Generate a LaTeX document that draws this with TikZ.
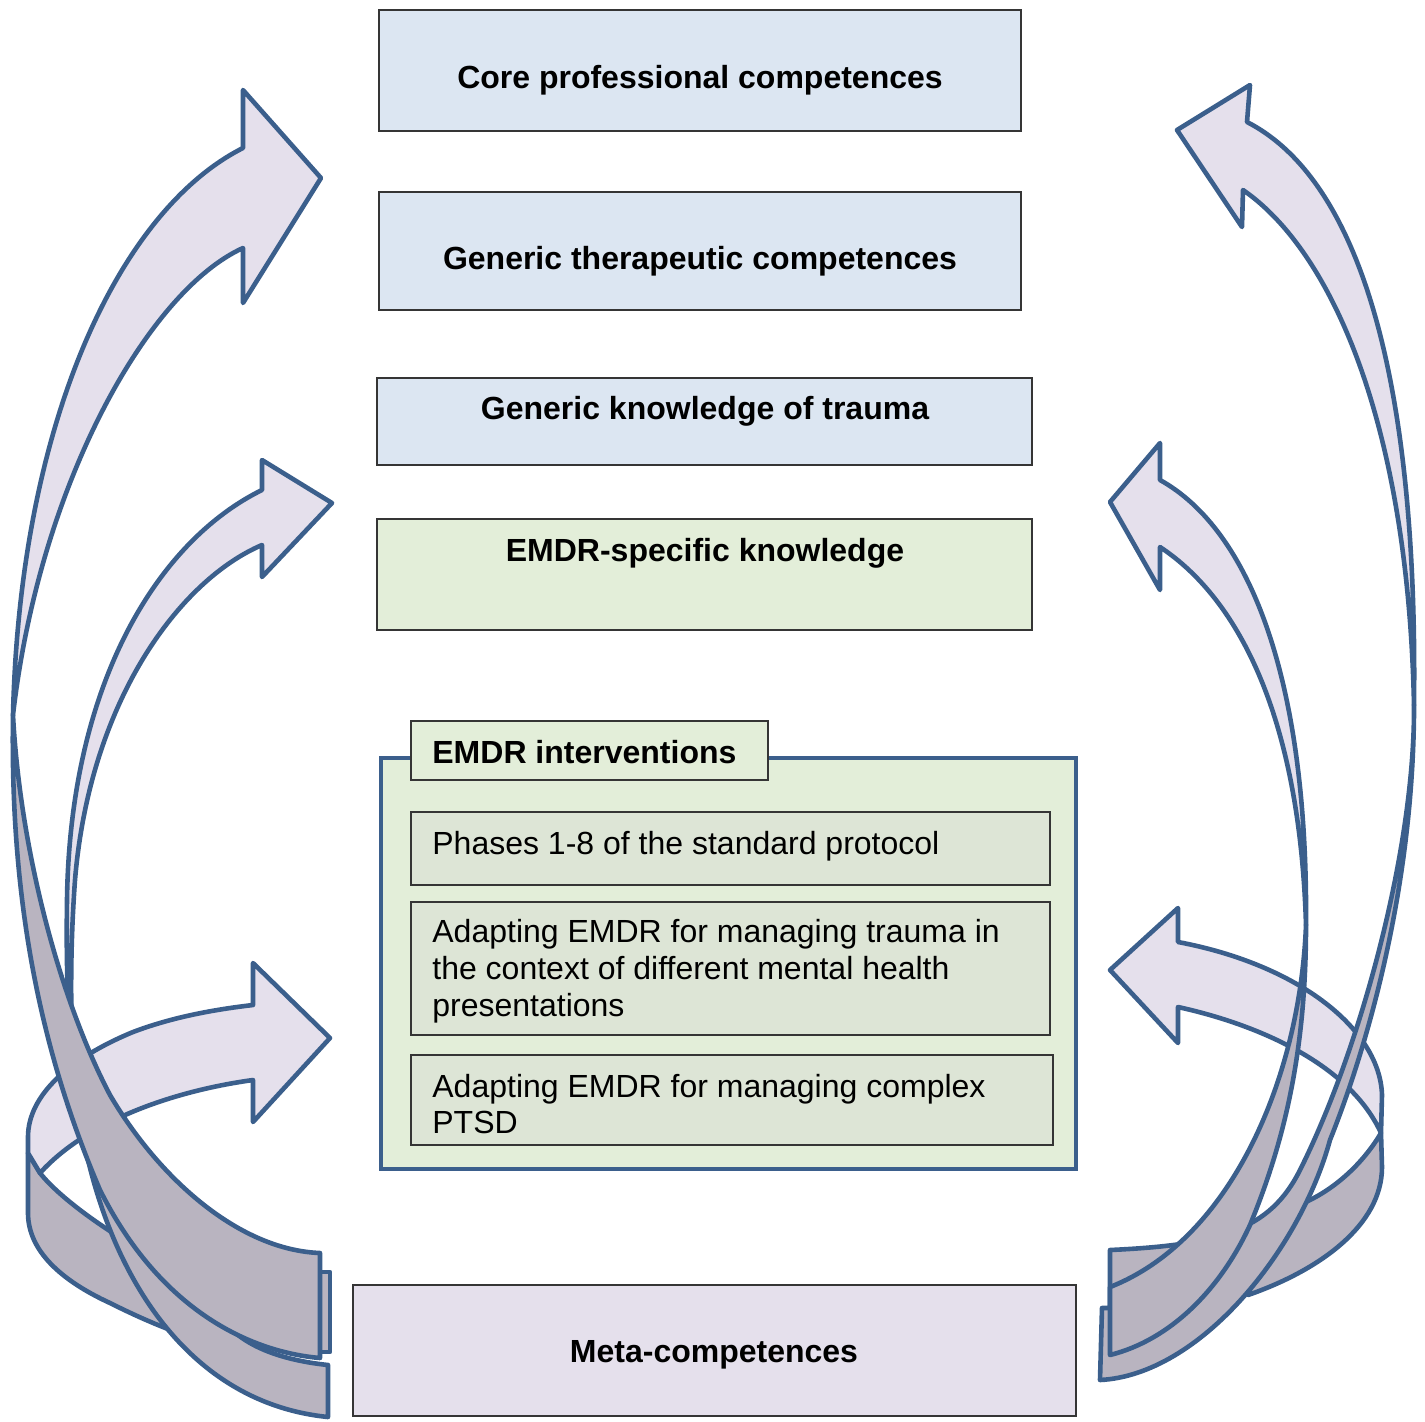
\documentclass[tikz,border=0pt]{standalone}
\usepackage{fontspec}
\setmainfont{Liberation Sans}
\usetikzlibrary{fit}
\definecolor{arrowline}{HTML}{3B5F8C}
\definecolor{arrowlight}{HTML}{E5E0EC}
\definecolor{arrowdark}{HTML}{B9B4C0}
\definecolor{boxblue}{HTML}{DCE6F2}
\definecolor{boxgreen}{HTML}{E3EED9}
\definecolor{boxinner}{HTML}{DDE5D6}
\definecolor{boxlav}{HTML}{E5E0EC}
\definecolor{boxline}{HTML}{353535}
\begin{document}
\begin{tikzpicture}[x=0.5pt,y=-0.5pt,
  lightpart/.style={fill=arrowlight, draw=arrowline, line width=2.3pt, line join=round},
  darkpart/.style={fill=arrowdark, draw=arrowline, line width=2.3pt, line join=round},
  boxbase/.style={draw=boxline, line width=1pt, inner sep=0pt},
  bluebox/.style={boxbase, fill=boxblue},
  greenbox/.style={boxbase, fill=boxgreen},
  innerbox/.style={boxbase, fill=boxinner},
  lavbox/.style={boxbase, fill=boxlav},
  outerbox/.style={draw=arrowline, line width=2pt, fill=boxgreen, inner sep=0pt},
  txt/.style={inner sep=0pt, font=\fontsize{16}{18.5}\selectfont},
  btxt/.style={inner sep=0pt, font=\fontsize{16}{18.5}\selectfont\bfseries},
]
\useasboundingbox (0,0) rectangle (1425,1421);

% ---------------- boxes ----------------
\node[bluebox, fit={(379,10)(1021,131)}] (core) {};
\node[bluebox, fit={(379,192)(1021,310)}] (gtc) {};
\node[bluebox, fit={(377,378)(1032,465)}] (gkt) {};
\node[greenbox, fit={(377,519)(1032,630)}] (emk) {};
\node[outerbox, fit={(381,758)(1076,1169)}] (interv) {};
\node[greenbox, fit={(411,721)(768,780)}] (tab) {};
\node[innerbox, fit={(411,812)(1050,885)}] (phases) {};
\node[innerbox, fit={(411,902)(1050,1035)}] (adapt1) {};
\node[innerbox, fit={(411,1055)(1053,1145)}] (adapt2) {};
\node[lavbox, fit={(353,1285)(1076,1416)}] (meta) {};

\node[btxt, anchor=base] (tcore) at (700,88) {Core professional competences};
\node[btxt, anchor=base] (tgtc) at (700,269) {Generic therapeutic competences};
\node[btxt, anchor=base] (tgkt) at (705,419) {Generic knowledge of trauma};
\node[btxt, anchor=base] (temk) at (705,561) {EMDR-specific knowledge};
\node[btxt, anchor=base west] (ttab) at (432,763) {EMDR interventions};
\node[txt, anchor=base west] (tph) at (432,854) {Phases 1-8 of the standard protocol};
\node[txt, anchor=base west] (ta1a) at (432,942) {Adapting EMDR for managing trauma in};
\node[txt, anchor=base west] (ta1b) at (432,979) {the context of different mental health};
\node[txt, anchor=base west] (ta1c) at (432,1016) {presentations};
\node[txt, anchor=base west] (ta2a) at (432,1097) {Adapting EMDR for managing complex};
\node[txt, anchor=base west] (ta2b) at (432,1133) {PTSD};
\node[btxt, anchor=base] (tmeta) at (714,1362) {Meta-competences};

% ---------------- left side ----------------
% ring back
\path[darkpart] (28,1153) -- (28,1213)
  .. controls (28,1250) and (60,1280) .. (110,1303)
  .. controls (132,1314) and (150,1322) .. (168,1329)
  -- (185,1310) -- (125,1245) -- (113,1233)
  .. controls (85,1215) and (55,1192) .. (40,1173) -- cycle;
% ring front
\path[lightpart] (28,1153) -- (28,1137)
  .. controls (28,1095) and (70,1058) .. (133,1032)
  .. controls (170,1018) and (210,1010) .. (253,1005)
  -- (253,963) -- (330,1038) -- (253,1122) -- (253,1080)
  .. controls (180,1090) and (90,1118) .. (40,1173) -- cycle;
% second arrow dark tail
\path[darkpart] (72,1045)
  .. controls (80,1220) and (160,1400) .. (328,1417)
  -- (328,1365)
  .. controls (280,1360) and (240,1345) .. (222,1318)
  -- (105,1170) -- cycle;
% second arrow light
\path[lightpart] (262,490) -- (262,460) -- (332,503) -- (262,577) -- (262,545)
  .. controls (180,580) and (90,700) .. (75,880)
  .. controls (70,950) and (71,1000) .. (72,1045)
  .. controls (68,1010) and (66,970) .. (67,900)
  .. controls (70,680) and (160,540) .. (262,490) -- cycle;
% end tab of big arrow
\path[darkpart] (320,1272) rectangle (330,1352);
% big arrow dark
\path[darkpart] (13,715)
  .. controls (10,900) and (40,1050) .. (100,1190)
  .. controls (160,1310) and (250,1352) .. (320,1358)
  -- (320,1253)
  .. controls (240,1250) and (160,1180) .. (110,1095)
  .. controls (60,1000) and (20,850) .. (13,715) -- cycle;
% big arrow light
\path[lightpart] (243,148) -- (243,90) -- (321,178) -- (243,303) -- (243,248)
  .. controls (150,290) and (40,480) .. (13,715)
  .. controls (20,420) and (120,210) .. (243,148) -- cycle;

% ---------------- right side ----------------
% ring back
\path[darkpart] (1381,1133) -- (1382,1167)
  .. controls (1382,1225) and (1320,1270) .. (1248,1295)
  -- (1260,1260) -- (1300,1205) -- (1310,1200)
  .. controls (1340,1185) and (1365,1160) .. (1381,1133) -- cycle;
% ring front
\path[lightpart] (1178,942) -- (1178,908) -- (1110,970) -- (1178,1043) -- (1178,1007)
  .. controls (1260,1025) and (1350,1065) .. (1381,1133)
  -- (1382,1095)
  .. controls (1380,1030) and (1300,965) .. (1178,942) -- cycle;
% big arrow dark
\path[darkpart] (1414,705)
  .. controls (1415,850) and (1360,1050) .. (1300,1170)
  .. controls (1270,1230) and (1220,1245) .. (1110,1250)
  -- (1110,1308) -- (1102,1308) -- (1100,1380)
  .. controls (1200,1375) and (1300,1250) .. (1330,1140)
  .. controls (1370,1040) and (1414,880) .. (1414,705) -- cycle;
% second arrow dark
\path[darkpart] (1306,925)
  .. controls (1300,1080) and (1230,1240) .. (1110,1287)
  -- (1110,1355)
  .. controls (1170,1340) and (1220,1290) .. (1250,1225)
  .. controls (1285,1140) and (1306,1050) .. (1306,925) -- cycle;
% second arrow light
\path[lightpart] (1160,480) -- (1160,443) -- (1110,502) -- (1160,590) -- (1160,547)
  .. controls (1240,600) and (1300,720) .. (1306,925)
  .. controls (1308,680) and (1250,530) .. (1160,480) -- cycle;
% big arrow light
\path[lightpart] (1247,122) -- (1250,85) -- (1177,130) -- (1242,227) -- (1243,190)
  .. controls (1330,250) and (1408,420) .. (1414,705)
  .. controls (1418,380) and (1360,180) .. (1247,122) -- cycle;
\end{tikzpicture}
\end{document}
